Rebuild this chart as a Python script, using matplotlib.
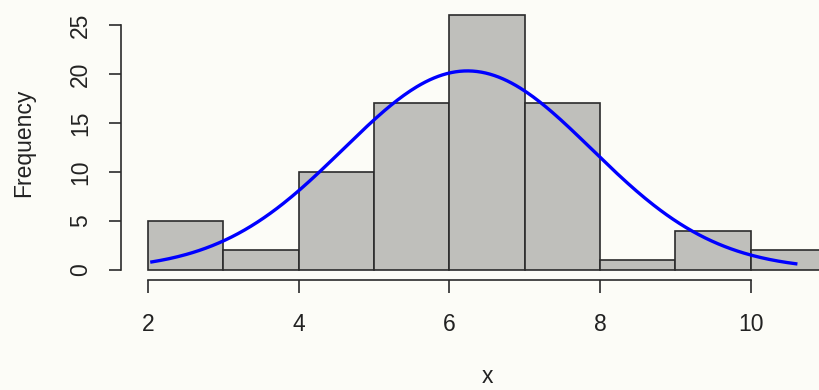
import matplotlib.pyplot as plt
import numpy as np

# histogram (unit-wide bins)
bin_edges = [2, 3, 4, 5, 6, 7, 8, 9, 10, 11]
counts = [5, 2, 10, 17, 26, 17, 1, 4, 2]

# fitted normal curve parameters (scaled by n * binwidth)
fit_mean = 6.24
fit_sd = 1.65
curve_from, curve_to = 2.05, 10.6

x_ticks = [2, 4, 6, 8, 10]
y_ticks = [0, 5, 10, 15, 20, 25]

plt.rcParams["font.family"] = ["Liberation Sans", "DejaVu Sans"]

bg = "#fcfcf7"
fig = plt.figure(figsize=(8.2, 3.9), dpi=100, facecolor=bg)
ax = fig.add_axes([121 / 820, 110 / 390, 732 / 820, 275 / 390])
ax.set_facecolor(bg)

widths = np.diff(bin_edges)
ax.bar(bin_edges[:-1], counts, width=widths, align="edge",
       color="#bfbfbb", edgecolor="#2b2b2b", linewidth=1.2, zorder=2)

n = sum(counts)
xs = np.linspace(curve_from, curve_to, 300)
ys = n * 1.0 * np.exp(-0.5 * ((xs - fit_mean) / fit_sd) ** 2) / (fit_sd * np.sqrt(2 * np.pi))
ax.plot(xs, ys, color="#0000ff", linewidth=2.4, zorder=3)

ax.set_xlim(1.64, 11.36)
ax.set_ylim(-1.04, 27.04)

for s in ["top", "right"]:
    ax.spines[s].set_visible(False)
ax.spines["left"].set_bounds(0, 25)
ax.spines["bottom"].set_bounds(2, 10)
for s in ["left", "bottom"]:
    ax.spines[s].set_color("#2b2b2b")
    ax.spines[s].set_linewidth(1.2)

ax.set_xticks(x_ticks)
ax.set_yticks(y_ticks)
ax.set_yticklabels([str(v) for v in y_ticks], rotation=90, va="center")
ax.tick_params(axis="both", direction="out", length=9, width=1.2,
               color="#2b2b2b", labelsize=16.5, labelcolor="#222222")
ax.tick_params(axis="x", pad=15)
ax.tick_params(axis="y", pad=12)

ax.set_ylabel("Frequency", fontsize=16.5, color="#222222", labelpad=24)
fig.text(487 / 820, 7 / 390, "x", fontsize=16.5, color="#222222",
         ha="center", va="baseline")

fig.savefig("out.png", dpi=100, facecolor=bg)
